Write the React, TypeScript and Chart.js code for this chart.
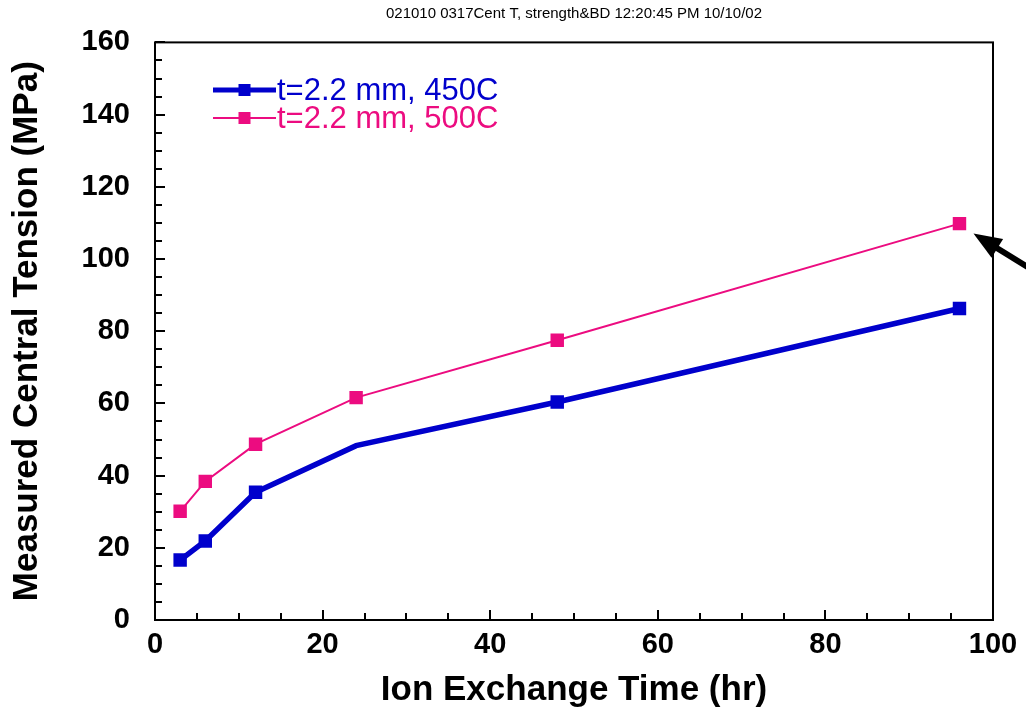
import { useEffect, useRef } from "react";
import { Chart, registerables } from "chart.js";
Chart.register(...registerables);

const hours = [3, 6, 12, 24, 48, 96];
const ct450 = [16.6, 21.9, 35.4, 48.3, 60.4, 86.3];
const ct500 = [30.1, 38.4, 48.7, 61.6, 77.5, 109.8];
const marker450 = [true, true, true, false, true, true];
const seriesLabels = ["t=2.2 mm, 450C", "t=2.2 mm, 500C"];
const seriesColors = ["#0000cc", "#ec0c80"];
const headerText = "021010 0317Cent T, strength&BD 12:20:45 PM 10/10/02";
const yTitle = "Measured Central Tension (MPa)";
const xTitle = "Ion Exchange Time (hr)";

const FONT = "'Liberation Sans', Arial, Helvetica, sans-serif";

const decorPlugin = {
  id: "decor",
  afterDraw(chart: any) {
    const ctx = chart.ctx;
    const { left, right, top, bottom } = chart.chartArea;
    const xs = chart.scales.x;
    const ys = chart.scales.y;
    ctx.save();
    // frame
    ctx.strokeStyle = "#000";
    ctx.lineWidth = 2;
    ctx.strokeRect(left, top, right - left, bottom - top);
    // ticks
    ctx.lineWidth = 2;
    ctx.beginPath();
    for (let v = 0; v <= 160; v += 5) {
      const y = Math.round(ys.getPixelForValue(v));
      const len = v % 20 === 0 ? 10 : 7;
      ctx.moveTo(left, y);
      ctx.lineTo(left + len, y);
    }
    for (let v = 0; v <= 100; v += 5) {
      const x = Math.round(xs.getPixelForValue(v));
      const len = v % 20 === 0 ? 10 : 7;
      ctx.moveTo(x, bottom);
      ctx.lineTo(x, bottom - len);
    }
    ctx.stroke();

    // header
    ctx.fillStyle = "#000";
    ctx.font = `15px ${FONT}`;
    ctx.textAlign = "center";
    ctx.textBaseline = "middle";
    ctx.fillText(headerText, (left + right) / 2, 14);

    // legend
    const lx0 = left + 58;
    const lx1 = left + 121;
    const rows = [90, 118];
    const widths = [5, 2];
    ctx.textAlign = "left";
    ctx.font = `31px ${FONT}`;
    rows.forEach((ry, i) => {
      ctx.strokeStyle = seriesColors[i];
      ctx.lineWidth = widths[i];
      ctx.beginPath();
      ctx.moveTo(lx0, ry);
      ctx.lineTo(lx1, ry);
      ctx.stroke();
      ctx.fillStyle = seriesColors[i];
      ctx.fillRect((lx0 + lx1) / 2 - 6, ry - 6, 12, 12);
      ctx.fillText(seriesLabels[i], lx1 + 1, ry + 1);
    });

    // arrow pointing to last 500C point
    const px = xs.getPixelForValue(hours[hours.length - 1]);
    const py = ys.getPixelForValue(ct500[ct500.length - 1]);
    const tipX = px + 14;
    const tipY = py + 10;
    const dx = 0.852, dy = 0.524;
    const headLen = 28, headW = 11;
    ctx.strokeStyle = "#000";
    ctx.fillStyle = "#000";
    ctx.lineWidth = 6;
    ctx.beginPath();
    ctx.moveTo(tipX + dx * (headLen - 4), tipY + dy * (headLen - 4));
    ctx.lineTo(tipX + dx * 120, tipY + dy * 120);
    ctx.stroke();
    const bx = tipX + dx * headLen;
    const by = tipY + dy * headLen;
    ctx.beginPath();
    ctx.moveTo(tipX, tipY);
    ctx.lineTo(bx - dy * headW, by + dx * headW);
    ctx.lineTo(bx + dy * headW, by - dx * headW);
    ctx.closePath();
    ctx.fill();
    ctx.restore();
  },
};

export default function App() {
  const ref = useRef<HTMLCanvasElement | null>(null);
  useEffect(() => {
    document.body.style.margin = "0";
    const canvas = ref.current!;
    const chart = new Chart(canvas, {
      type: "line",
      data: {
        datasets: [
          {
            label: seriesLabels[0],
            data: hours.map((h, i) => ({ x: h, y: ct450[i] })),
            borderColor: seriesColors[0],
            backgroundColor: seriesColors[0],
            borderWidth: 5.5,
            pointStyle: "rect",
            pointRadius: marker450.map((m) => (m ? 9.5 : 0)),
            pointBorderWidth: 0,
            pointBackgroundColor: seriesColors[0],
            tension: 0,
            fill: false,
          },
          {
            label: seriesLabels[1],
            data: hours.map((h, i) => ({ x: h, y: ct500[i] })),
            borderColor: seriesColors[1],
            backgroundColor: seriesColors[1],
            borderWidth: 2,
            pointStyle: "rect",
            pointRadius: 9.5,
            pointBorderWidth: 0,
            pointBackgroundColor: seriesColors[1],
            tension: 0,
            fill: false,
          },
        ],
      },
      options: {
        animation: false,
        responsive: false,
        layout: { padding: { top: 40, right: 33, left: 0, bottom: 0 } },
        plugins: { legend: { display: false }, tooltip: { enabled: false }, title: { display: false } },
        scales: {
          x: {
            type: "linear",
            min: 0,
            max: 100,
            grid: { display: false, drawTicks: false },
            border: { display: false },
            ticks: { stepSize: 20, color: "#000", padding: 8, font: { family: FONT, size: 29, weight: "bold" }, maxRotation: 0 },
            title: { display: true, text: xTitle, color: "#000", padding: { top: 0, bottom: 0 }, font: { family: FONT, size: 35, weight: "bold" } },
            afterFit: (s: any) => { s.height = 91; },
          },
          y: {
            type: "linear",
            min: 0,
            max: 160,
            grid: { display: false, drawTicks: false },
            border: { display: false },
            ticks: { stepSize: 20, color: "#000", padding: 25, font: { family: FONT, size: 29, weight: "bold" } },
            title: { display: true, text: yTitle, color: "#000", padding: { top: 6, bottom: 0 }, font: { family: FONT, size: 35, weight: "bold" } },
            afterFit: (s: any) => { s.width = 155; },
          },
        },
      } as any,
      plugins: [decorPlugin],
    });
    return () => chart.destroy();
  }, []);
  return <canvas ref={ref} width={1026} height={711} style={{ display: "block" }} />;
}
